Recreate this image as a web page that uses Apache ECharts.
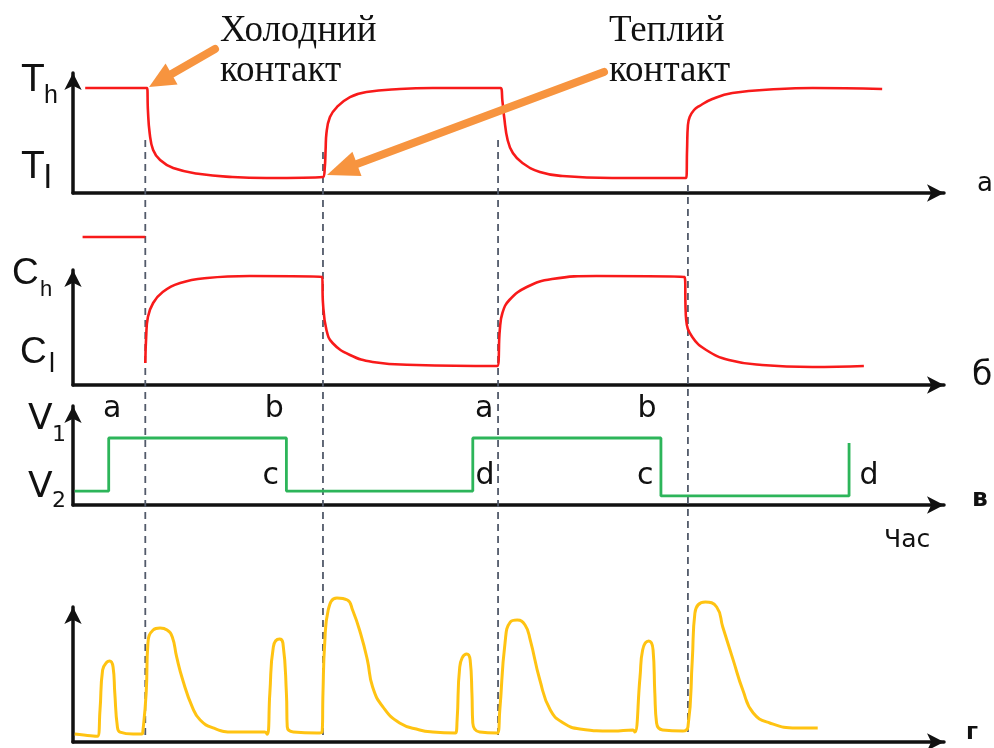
<!DOCTYPE html>
<html><head><meta charset="utf-8">
<script src="https://cdn.jsdelivr.net/npm/echarts@6/dist/echarts.min.js"></script>
<style>html,body{margin:0;padding:0;background:#fff}#c{width:994px;height:748px}</style>
</head><body><div id="c"></div><script>
// ---------- data (time in arbitrary units 0..100, levels 0..100 per panel) ----------
const panelNames = ['а', 'б', 'в', 'г'];
const timeAxisName = 'Час';
const tempLabels = [['T', 'h'], ['T', 'l']];
const concLabels = [['C', 'h'], ['C', 'l']];
const voltLabels = [['V', '1'], ['V', '2']];
const annotCold = ['Холодний', 'контакт'];
const annotWarm = ['Теплий', 'контакт'];
const coldContact = [8.5, 85.4];
const warmContact = [28.7, 13.0];
const contactTimes = [8.3, 28.7, 48.8, 70.6];

const tempCurve = [[1.4,85.4],[8.5,85.4],[8.6,67.5],[8.8,48.8],[9.2,35],[10.0,26.8],[11.5,20.3],[14.6,15.4],[18.3,13.0],[22.2,12.2],[28.7,13.0],
 [28.9,20],[29.0,35],[29.1,48.8],[29.5,61.8],[30.3,69.9],[31.8,78],[33.7,82.1],[37.5,84.6],[41.3,85.4],[49.1,85.4],
 [49.3,75],[49.5,61.8],[49.9,43.1],[50.5,32.5],[51.6,24.4],[53.6,17.1],[56.2,13.8],[61.9,12.2],[70.4,12.2],
 [70.5,35],[70.6,55.3],[70.8,61.8],[71.3,67.5],[71.9,70.7],[73.4,76.4],[75.7,81.3],[81.1,84.6],[84.9,85.4],[92.9,84.6]];

const concInitial = [[1.1,118.4],[8.3,118.4]];
const concCurve = [[8.3,17.6],[8.4,38.4],[8.6,54.4],[9.2,65.6],[10.3,74.4],[12.3,81.6],[15.4,85.6],[20.3,87.2],[28.6,86.4],
 [28.7,65.6],[29.1,44],[29.8,33.6],[31.8,24],[34.4,18.4],[39.4,16],[48.7,15.2],
 [49.0,44],[49.3,57.6],[50.1,68],[52.1,78.4],[55.0,84.8],[60.1,87.2],[70.2,86.4],
 [70.4,52],[71.1,38.4],[72.7,28],[75.3,20],[79.1,16],[84.9,14.4],[90.8,15.2]];

const voltSteps = [[0.2,13.3],[4.1,63.8],[24.5,13.3],[45.9,63.8],[67.5,8.6],[89.1,59]];
const eventNames = ['a','b','c','a','d','b','c','d'];
const eventTimes = [4.5,23.1,22.7,47.2,47.3,65.9,65.7,91.4];
const eventLevels = [91.4,91.4,27.6,91.4,27.6,91.4,27.6,27.6];

const signalCurve = [[0.2,5.6],[2.8,4.0],[3.1,22.5],[3.4,50.7],[3.9,56.3],[4.2,57.0],[4.6,52.8],[4.8,34.5],[5.1,10.6],[5.4,7.0],[6.9,5.6],[7.9,5.6],
 [8.0,6.3],[8.4,34.5],[8.6,69.7],[9.2,78.9],[10.0,80.3],[10.8,78.9],[11.4,73.9],[11.9,59.9],[12.6,43.7],[13.7,24.6],[14.6,15.5],[16.1,9.9],[18.4,7.0],[22.0,7.0],
 [22.3,5.5],[22.6,34.5],[23.0,66.9],[23.7,72.5],[24.1,69.7],[24.5,34.5],[24.6,10.6],[25.3,7.0],[28.0,6.3],[28.6,7.0],
 [28.7,34.5],[28.9,69.7],[29.3,93.0],[30.3,101.4],[31.5,100],[32.1,93.0],[33.0,76.8],[33.8,57.7],[34.4,38.7],[35.6,24.6],[37.5,13.4],[39.8,8.5],[41.3,7.0],[43.9,6.3],
 [44.1,15.5],[44.4,52.8],[45.2,62.0],[45.6,57.7],[45.8,34.5],[45.9,13.4],[46.7,7.0],[48.7,6.3],
 [49.0,22.5],[49.6,69.7],[50.2,84.5],[51.0,85.9],[51.9,82.4],[52.5,71.8],[53.6,43.7],[54.8,22.5],[56.3,13.4],[58.2,9.2],[62.0,7.7],[64.3,8.5],
 [64.5,7.0],[65.1,45.8],[65.4,64.8],[66.1,71.1],[66.6,64.8],[66.8,34.5],[67.0,13.4],[67.7,8.5],[70.0,7.7],
 [70.6,10.6],[71.1,57.7],[71.4,90.8],[72.6,98.6],[73.9,95.1],[74.6,81.0],[75.8,57.7],[76.9,36.6],[78.1,20.4],[80.0,13.4],[83.1,9.9],[85.5,9.9]];

// ---------- layout ----------
const chart = echarts.init(document.getElementById('c'), null, {renderer: 'canvas'});
const grids = [
  {left: 73, right: 50, top: 73, height: 120},
  {left: 73, right: 50, top: 270, height: 115},
  {left: 73, right: 50, top: 406, height: 99},
  {left: 73, right: 50, top: 607, height: 135}
];
const yMax = [97.6, 92, 94.3, 95.1];
const axisLine = {show: true, symbol: ['none', 'arrow'], symbolSize: [13, 17], lineStyle: {color: '#111', width: 3.5}};
const common = {axisTick: {show: false}, axisLabel: {show: false}, splitLine: {show: false}, axisLine};
const xAxes = grids.map((g, i) => Object.assign({gridIndex: i, type: 'value', min: 0, max: 100}, common));
const yAxes = grids.map((g, i) => Object.assign({gridIndex: i, type: 'value', min: 0, max: yMax[i]}, common));

const RED = '#f81a1a', GREEN = '#2db55a', YELLOW = '#ffc312';
const option = {
  animation: false,
  backgroundColor: '#fff',
  grid: grids,
  xAxis: xAxes,
  yAxis: yAxes,
  series: [
    {type: 'line', xAxisIndex: 0, yAxisIndex: 0, data: tempCurve, showSymbol: false, smooth: 0.45, clip: false,
     lineStyle: {color: RED, width: 2.6}, z: 5},
    {type: 'line', xAxisIndex: 1, yAxisIndex: 1, data: concInitial, showSymbol: false, clip: false,
     lineStyle: {color: RED, width: 2.6}, z: 5},
    {type: 'line', xAxisIndex: 1, yAxisIndex: 1, data: concCurve, showSymbol: false, smooth: 0.45, clip: false,
     lineStyle: {color: RED, width: 2.6}, z: 5},
    {type: 'line', xAxisIndex: 2, yAxisIndex: 2, data: voltSteps, step: 'end', showSymbol: false, clip: false,
     lineStyle: {color: GREEN, width: 2.8}, z: 5},
    {type: 'line', xAxisIndex: 3, yAxisIndex: 3, data: signalCurve, showSymbol: false, smooth: 0.5, clip: false,
     lineStyle: {color: YELLOW, width: 3}, z: 5}
  ]
};
chart.setOption(option);

// ---------- annotations built from scales ----------
const g = [];
const xpx = t => chart.convertToPixel({xAxisIndex: 0}, t);
const pt = (gi, p) => chart.convertToPixel({gridIndex: gi}, p);
const dashTops = [140, 152, 140, 185];
contactTimes.forEach((t, i) => {
  const x = xpx(t);
  g.push({type: 'line', z: 1, shape: {x1: x, y1: dashTops[i], x2: x, y2: 737},
          style: {stroke: '#525a6a', lineWidth: 1.8, lineDash: [7, 5]}});
});
function txt(s, x, y, size, fam, weight, align) {
  g.push({type: 'text', z: 10, x, y, style: {text: s, fontSize: size, fontFamily: fam, fontWeight: weight || 'normal',
          fill: '#111', align: align || 'left', verticalAlign: 'middle'}});
}
const SANS = 'Liberation Sans';
const DJ = 'DejaVu Sans';
const SERIF = 'Liberation Serif';
// event letters on the voltage panel
eventNames.forEach((n, i) => {
  const p = pt(2, [eventTimes[i], eventLevels[i]]);
  txt(n, p[0], p[1], 30, DJ, 'normal', 'center');
});
// axis level labels
txt(tempLabels[0][0], 21, 80, 39, SANS); txt(tempLabels[0][1], 44, 96, 25, SANS);
txt(tempLabels[1][0], 21, 167, 39, SANS); txt(tempLabels[1][1], 44, 179, 34, SANS);
txt(concLabels[0][0], 12, 274, 37, SANS); txt(concLabels[0][1], 40, 290, 22, SANS);
txt(concLabels[1][0], 20, 353, 37, SANS); txt(concLabels[1][1], 49, 365, 27, SANS);
txt(voltLabels[0][0], 28, 420, 36, DJ); txt(voltLabels[0][1], 52, 435, 22, DJ);
txt(voltLabels[1][0], 28, 488, 36, DJ); txt(voltLabels[1][1], 52, 501, 22, DJ);
// axis end names
txt(panelNames[0], 977, 184, 26, DJ);
txt(panelNames[1], 972, 376, 33, DJ);
txt(panelNames[2], 972, 499, 25, DJ, 'bold');
txt(panelNames[3], 966, 733, 23, DJ, 'bold');
txt(timeAxisName, 884, 540, 25, DJ);
// annotation texts
txt(annotCold[0], 220, 31, 37, SERIF); txt(annotCold[1], 220, 71, 37, SERIF);
txt(annotWarm[0], 609, 31, 37, SERIF); txt(annotWarm[1], 609, 71, 37, SERIF);
// orange arrows
function arrow(tail, tip, L, W) {
  const dx = tip[0] - tail[0], dy = tip[1] - tail[1];
  const len = Math.hypot(dx, dy), ux = dx / len, uy = dy / len, nx = -uy, ny = ux;
  const bx = tip[0] - ux * L, by = tip[1] - uy * L;
  g.push({type: 'line', z: 8, shape: {x1: tail[0], y1: tail[1], x2: bx + ux * 3, y2: by + uy * 3},
          style: {stroke: '#f7943f', lineWidth: 8, lineCap: 'round'}});
  g.push({type: 'polygon', z: 8, shape: {points: [tip, [bx + nx * W / 2, by + ny * W / 2], [bx - nx * W / 2, by - ny * W / 2]]},
          style: {fill: '#f7943f'}});
}
const cp = pt(0, coldContact), wp = pt(0, warmContact);
arrow([215, 49], [cp[0] + 2, cp[1] - 1], 26, 24);
arrow([604, 72], [wp[0] + 4, wp[1] - 2], 32, 26);
chart.setOption({graphic: g});
</script></body></html>
